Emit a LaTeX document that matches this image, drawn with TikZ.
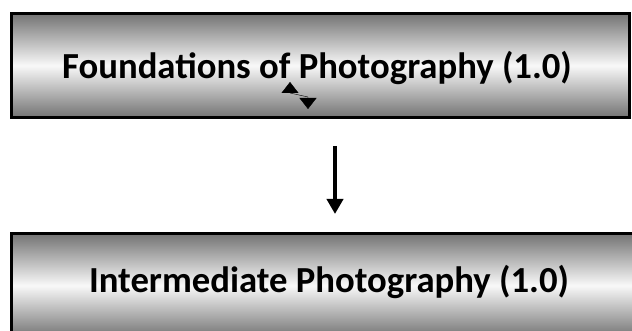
\documentclass[tikz,border=0pt]{standalone}
\usepackage{fontspec}
\setmainfont{Carlito}
\usetikzlibrary{arrows.meta}
\tikzset{every picture/.style={line width=0.75pt}}
\tikzset{
  stagebox/.style={draw=black, line width=3pt, top color=gray!90!black, bottom color=gray!90!black,
    middle color=white!95!gray, inner sep=0pt},
  stagetext/.style={font=\fontsize{36.7}{42}\selectfont\bfseries, anchor=base, inner sep=0pt},
  flowarrow/.style={line width=4pt, -{Triangle[length=15pt,width=16pt]}},
  stubarrows/.style={line width=0.4pt, {Triangle[length=11pt,width=17pt]}-{Triangle[length=11pt,width=17pt]}}
}

\begin{document}
\begin{tikzpicture}[x=1pt,y=-1pt]
\useasboundingbox (0,0) rectangle (632,331);
\clip (0,0) rectangle (632,331);
\node[stagebox, minimum width=618pt, minimum height=104pt] (found) at (320.5,65.5) {};
\node[stagebox, minimum width=639pt, minimum height=104pt] (inter) at (331,285.5) {};
%
\node[stagetext] (foundlbl) at (317,79) {Foundations of Photography (1.0)};
\node[stagetext] (interlbl) at (329,292) {Intermediate Photography (1.0)};
%
\draw[flowarrow, shorten <=27pt, shorten >=18pt] ([xshift=14.5pt]found.south) -- ([xshift=4pt]inter.north);
%
\coordinate (stubup) at (290,82);
\coordinate (stubdown) at (308,109);
\draw[stubarrows] (stubup) -- (290,93) -- (308,97) -- (stubdown);
\end{tikzpicture}
\end{document}
